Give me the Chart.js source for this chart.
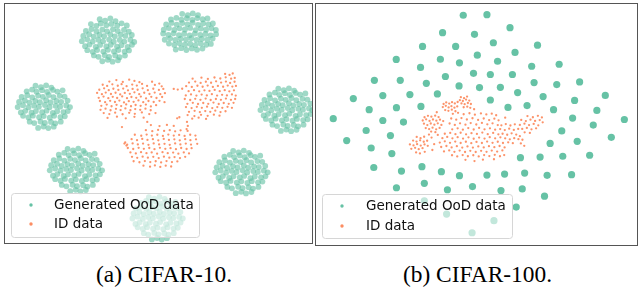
<!DOCTYPE html>
<html>
<head>
<meta charset="utf-8">
<script src="https://cdn.jsdelivr.net/npm/chart.js@4.4.0/dist/chart.umd.min.js"></script>
<style>
  html, body { margin: 0; padding: 0; background: #fff; }
  body { width: 638px; height: 288px; position: relative; overflow: hidden; }
  canvas { position: absolute; }
  .cap { position: absolute; top: 263px; font-family: "Liberation Serif", "Times New Roman", serif; font-size: 23.4px; line-height: 23.4px; color: #000; white-space: nowrap; transform: translateX(-50%); }
</style>
</head>
<body>
<canvas id="c10" width="309" height="241" style="left:4px;top:3px;width:309px;height:241px"></canvas>
<canvas id="c100" width="323" height="243" style="left:315px;top:3px;width:323px;height:243px"></canvas>
<div class="cap" style="left:164px">(a) CIFAR-10.</div>
<div class="cap" style="left:477.5px">(b) CIFAR-100.</div>
<script>
// ---------- Legend / series names ----------
const seriesNames = ["Generated OoD data", "ID data"];
const captions = ["(a) CIFAR-10.", "(b) CIFAR-100."];

// ---------- (a) CIFAR-10 : t-SNE embedding, generated OoD clusters ----------
const c10_ood_topLeft = [
[-29.3,51.9],[-26.6,51.2],[-24.0,52.3],[-21.4,51.0],
[-33.7,49.5],[-31.0,48.6],[-28.8,49.8],[-26.0,48.9],[-23.5,49.6],[-20.6,48.7],[-18.4,49.9],[-15.8,48.8],
[-36.2,46.1],[-33.4,47.0],[-30.9,45.8],[-28.0,46.7],[-25.6,45.9],[-22.7,46.9],[-20.3,46.0],[-17.2,46.6],[-14.8,45.7],
[-37.5,43.6],[-34.6,44.5],[-32.3,43.3],[-29.4,44.2],[-27.1,43.5],[-24.0,44.4],[-21.8,43.4],[-18.9,44.3],[-16.5,43.6],[-13.3,44.1],
[-38.2,41.0],[-35.5,41.9],[-32.8,40.8],[-30.0,41.7],[-27.6,40.9],[-24.6,41.8],[-22.3,40.7],[-19.3,41.6],[-17.0,40.8],[-14.0,41.7],[-12.1,40.6],
[-36.6,38.5],[-34.4,39.3],[-31.3,38.2],[-29.1,39.1],[-26.0,38.4],[-23.8,39.2],[-20.7,38.3],[-18.5,39.0],[-15.4,38.1],[-13.2,39.2],
[-35.5,36.5],[-32.8,35.7],[-30.6,36.6],[-27.5,35.8],[-25.2,36.7],[-22.2,35.9],[-20.0,36.6],[-16.9,35.8],[-14.7,36.4],
[-32.2,33.9],[-29.9,33.2],[-26.8,34.0],[-24.6,33.1],[-21.6,33.9],[-19.4,33.0],[-16.7,33.8],
[-28.0,31.0],[-25.3,31.7],[-22.9,30.8],[-20.2,31.5]
];
const c10_ood_topRight = [
[11.8,54.6],[14.6,53.9],[17.1,54.8],[19.7,54.0],
[6.2,51.8],[8.9,52.6],[11.4,51.7],[14.1,52.4],[16.8,51.6],[19.3,52.5],[22.0,51.9],[24.4,52.3],
[3.8,49.3],[6.5,50.1],[9.1,49.2],[11.8,50.0],[14.4,49.4],[17.0,50.2],[19.7,49.1],[22.3,49.9],[24.9,49.3],[27.1,49.8],
[2.6,46.7],[5.2,47.5],[7.9,46.6],[10.5,47.4],[13.2,46.8],[15.8,47.6],[18.5,46.5],[21.1,47.3],[23.7,46.7],[26.4,47.4],[28.6,46.6],
[2.3,44.8],[4.9,44.1],[7.5,44.9],[10.2,44.0],[12.8,44.7],[15.5,43.9],[18.1,44.8],[20.8,44.1],[23.4,44.6],[26.0,43.9],[28.7,44.5],
[3.1,41.7],[5.8,42.4],[8.4,41.6],[11.1,42.3],[13.7,41.8],[16.4,42.5],[19.0,41.6],[21.6,42.2],[24.3,41.7],[27.0,42.3],
[5.2,39.8],[7.9,39.1],[10.5,39.9],[13.2,39.2],[15.8,39.7],[18.4,39.0],[21.1,39.8],[23.8,39.2],[26.1,39.6],
[8.6,36.8],[11.3,37.5],[13.9,36.6],[16.6,37.4],[19.2,36.7],[21.9,37.3]
];
const c10_ood_left = [
[-61.3,18.8],[-58.6,18.1],[-56.0,19.0],[-53.4,17.9],
[-65.7,16.0],[-63.0,16.9],[-60.8,15.8],[-58.0,16.6],[-55.5,15.7],[-52.6,16.7],[-50.4,15.9],[-47.8,16.5],
[-68.2,13.2],[-65.4,14.1],[-62.9,13.0],[-60.0,13.9],[-57.6,13.3],[-54.7,14.2],[-52.3,13.1],[-49.2,13.8],[-46.8,13.4],
[-69.5,10.7],[-66.6,11.5],[-64.3,10.4],[-61.4,11.3],[-59.1,10.6],[-56.0,11.6],[-53.8,10.5],[-50.9,11.2],[-48.5,10.8],[-45.3,11.4],
[-70.2,8.2],[-67.5,9.1],[-64.8,8.0],[-62.0,8.9],[-59.6,8.3],[-56.6,9.2],[-54.3,8.1],[-51.3,8.8],[-49.0,8.4],[-46.0,9.0],[-44.1,8.2],
[-68.6,5.5],[-66.4,6.3],[-63.3,5.4],[-61.1,6.2],[-58.0,5.6],[-55.8,6.4],[-52.7,5.3],[-50.5,6.1],[-47.4,5.7],[-45.2,6.2],
[-67.5,3.8],[-64.8,3.0],[-62.6,3.9],[-59.5,3.1],[-57.2,3.7],[-54.2,2.9],[-52.0,3.8],[-48.9,3.2],[-46.7,3.6],
[-64.2,0.9],[-61.9,0.2],[-58.8,1.0],[-56.6,0.3],[-53.6,0.8],[-51.4,0.1],[-48.7,0.9],
[-60.0,-2.2],[-57.3,-1.5],[-54.9,-2.3],[-52.2,-1.6]
];
const c10_ood_right = [
[59.7,17.3],[62.4,16.6],[65.0,17.5],[67.6,16.4],
[55.3,14.5],[58.0,15.4],[60.2,14.3],[63.0,15.1],[65.5,14.2],[68.4,15.2],[70.6,14.4],[73.2,15.0],
[52.8,11.7],[55.6,12.6],[58.1,11.5],[61.0,12.4],[63.4,11.8],[66.3,12.7],[68.7,11.6],[71.8,12.3],[74.2,11.9],
[51.5,9.2],[54.4,10.0],[56.7,8.9],[59.6,9.8],[61.9,9.1],[65.0,10.1],[67.2,9.0],[70.1,9.7],[72.5,9.3],[75.7,9.9],
[50.8,6.7],[53.5,7.6],[56.2,6.5],[59.0,7.4],[61.4,6.8],[64.4,7.7],[66.7,6.6],[69.7,7.3],[72.0,6.9],[75.0,7.5],[76.6,6.7],
[52.4,4.0],[54.6,4.8],[57.7,3.9],[59.9,4.7],[63.0,4.1],[65.2,4.9],[68.3,3.8],[70.5,4.6],[73.6,4.2],[75.8,4.7],
[53.5,2.3],[56.2,1.5],[58.4,2.4],[61.5,1.6],[63.8,2.2],[66.8,1.4],[69.0,2.3],[72.1,1.7],[74.3,2.1],
[56.8,-0.6],[59.1,-1.3],[62.2,-0.5],[64.4,-1.2],[67.4,-0.7],[69.6,-1.4],[72.3,-0.6],
[61.0,-3.7],[63.7,-3.0],[66.1,-3.8],[68.8,-3.1]
];
const c10_ood_bottomLeft = [
[-45.3,-12.7],[-42.6,-13.4],[-40.0,-12.5],[-37.4,-13.6],
[-49.7,-15.5],[-47.0,-14.6],[-44.8,-15.7],[-42.0,-14.9],[-39.5,-15.8],[-36.6,-14.8],[-34.4,-15.6],[-31.8,-15.0],
[-52.2,-18.3],[-49.4,-17.4],[-46.9,-18.5],[-44.0,-17.6],[-41.6,-18.2],[-38.7,-17.3],[-36.3,-18.4],[-33.2,-17.7],[-30.8,-18.1],
[-53.5,-20.8],[-50.6,-20.0],[-48.3,-21.1],[-45.4,-20.2],[-43.1,-20.9],[-40.0,-19.9],[-37.8,-21.0],[-34.9,-20.3],[-32.5,-20.7],[-29.3,-20.1],
[-54.2,-23.3],[-51.5,-22.4],[-48.8,-23.5],[-46.0,-22.6],[-43.6,-23.2],[-40.6,-22.3],[-38.3,-23.4],[-35.3,-22.7],[-33.0,-23.1],[-30.0,-22.5],[-28.1,-23.3],
[-52.6,-26.0],[-50.4,-25.2],[-47.3,-26.1],[-45.1,-25.3],[-42.0,-25.9],[-39.8,-25.1],[-36.7,-26.2],[-34.5,-25.4],[-31.4,-25.8],[-29.2,-25.3],
[-51.5,-27.7],[-48.8,-28.5],[-46.6,-27.6],[-43.5,-28.4],[-41.2,-27.8],[-38.2,-28.6],[-36.0,-27.7],[-32.9,-28.3],[-30.7,-27.9],
[-48.2,-30.6],[-45.9,-31.3],[-42.8,-30.5],[-40.6,-31.2],[-37.6,-30.7],[-35.4,-31.4],[-32.7,-30.6],
[-44.0,-33.7],[-41.3,-33.0],[-38.9,-33.8],[-36.2,-33.1]
];
const c10_ood_bottomRight = [
[37.2,-13.7],[39.9,-14.4],[42.5,-13.5],[45.1,-14.6],
[32.8,-16.5],[35.5,-15.6],[37.7,-16.7],[40.5,-15.9],[43.0,-16.8],[45.9,-15.8],[48.1,-16.6],[50.7,-16.0],
[30.3,-19.3],[33.1,-18.4],[35.6,-19.5],[38.5,-18.6],[40.9,-19.2],[43.8,-18.3],[46.2,-19.4],[49.3,-18.7],[51.7,-19.1],
[29.0,-21.8],[31.9,-21.0],[34.2,-22.1],[37.1,-21.2],[39.4,-21.9],[42.5,-20.9],[44.7,-22.0],[47.6,-21.3],[50.0,-21.7],[53.2,-21.1],
[28.3,-24.3],[31.0,-23.4],[33.7,-24.5],[36.5,-23.6],[38.9,-24.2],[41.9,-23.3],[44.2,-24.4],[47.2,-23.7],[49.5,-24.1],[52.5,-23.5],[54.4,-24.3],
[29.9,-27.0],[32.1,-26.2],[35.2,-27.1],[37.4,-26.3],[40.5,-26.9],[42.7,-26.1],[45.8,-27.2],[48.0,-26.4],[51.1,-26.8],[53.3,-26.3],
[31.0,-28.7],[33.7,-29.5],[35.9,-28.6],[39.0,-29.4],[41.3,-28.8],[44.3,-29.6],[46.5,-28.7],[49.6,-29.3],[51.8,-28.9],
[34.3,-31.6],[36.6,-32.3],[39.7,-31.5],[41.9,-32.2],[44.9,-31.7],[47.1,-32.4],[49.8,-31.6],
[38.5,-34.7],[41.2,-34.0],[43.6,-34.8],[46.3,-34.1]
];
const c10_ood_bottom = [
[-4.8,-36.7],[-2.1,-37.4],[0.5,-36.5],[3.1,-37.6],
[-8.8,-39.5],[-6.2,-38.6],[-4.1,-39.7],[-1.4,-38.9],[1.0,-39.8],[3.8,-38.8],[5.9,-39.6],[8.4,-39.0],
[-11.2,-42.3],[-8.5,-41.4],[-6.1,-42.5],[-3.3,-41.6],[-1.0,-42.2],[1.8,-41.3],[4.1,-42.4],[7.1,-41.7],[9.4,-42.1],
[-12.4,-44.8],[-9.6,-44.0],[-7.4,-45.1],[-4.6,-44.2],[-2.4,-44.9],[0.6,-43.9],[2.7,-45.0],[5.5,-44.3],[7.8,-44.7],[10.9,-44.1],
[-13.0,-47.3],[-10.4,-46.4],[-7.8,-47.5],[-5.1,-46.6],[-2.8,-47.2],[0.1,-46.3],[2.3,-47.4],[5.2,-46.7],[7.4,-47.1],[10.3,-46.5],[12.1,-47.3],
[-11.5,-50.0],[-9.4,-49.2],[-6.4,-50.1],[-4.3,-49.3],[-1.3,-49.9],[0.8,-49.1],[3.8,-50.2],[5.9,-49.4],[8.9,-49.8],[11.0,-49.3],
[-10.4,-51.7],[-7.8,-52.5],[-5.7,-51.6],[-2.7,-52.4],[-0.5,-51.8],[2.4,-52.6],[4.5,-51.7],[7.5,-52.3],[9.6,-51.9],
[-7.3,-54.6],[-5.1,-55.3],[-2.1,-54.5],[0.0,-55.2],[2.9,-54.7],[5.0,-55.4],[7.6,-54.6],
[-3.3,-57.7],[-0.7,-57.0],[1.6,-57.8],[4.2,-57.1]
];

// ---------- (a) CIFAR-10 : ID data clusters ----------
const c10_id_left = [
[-24.5,20.9],[-21.0,21.6],[-17.8,20.7],[-14.6,21.8],[-12.0,21.2],[-9.5,20.6],[-3.2,20.8],[0.4,19.9],
[-27.8,19.3],[-25.6,18.7],[-23.0,19.5],[-20.3,18.8],[-18.4,19.6],[-15.9,18.6],[-13.1,19.4],[-10.8,18.9],[-8.2,19.7],[-5.7,18.7],[-1.8,19.2],[1.6,18.5],
[-29.5,16.8],[-27.1,17.5],[-24.8,16.6],[-22.5,17.3],[-20.0,16.7],[-17.6,17.4],[-15.2,16.5],[-12.9,17.2],[-10.4,16.8],[-7.9,17.5],[-5.3,16.6],[-2.6,17.3],[0.2,16.7],[2.4,17.2],
[-30.6,15.2],[-28.2,14.6],[-26.3,15.4],[-23.7,14.7],[-21.4,15.3],[-19.1,14.5],[-16.8,15.2],[-14.3,14.8],[-12.0,15.5],[-9.6,14.6],[-7.1,15.3],[-4.5,14.7],[-1.9,15.4],[0.9,14.6],[3.2,15.1],
[-29.8,12.8],[-27.4,13.4],[-25.0,12.6],[-22.8,13.3],[-20.6,12.7],[-18.1,13.5],[-15.7,12.6],[-13.5,13.2],[-11.1,12.8],[-8.8,13.4],[-6.2,12.5],[-3.6,13.3],[-1.0,12.7],[1.8,13.2],
[-29.2,11.2],[-26.6,10.6],[-24.1,11.3],[-21.7,10.7],[-19.5,11.4],[-17.2,10.5],[-14.8,11.1],[-12.4,10.8],[-10.0,11.5],[-7.6,10.6],[-5.0,11.2],[-2.4,10.7],[0.5,11.3],[3.0,10.6],
[-28.5,8.8],[-25.8,9.4],[-23.4,8.6],[-20.9,9.3],[-18.6,8.7],[-16.1,9.5],[-13.7,8.6],[-11.4,9.2],[-8.9,8.8],[-6.3,9.4],[-3.8,8.5],[-1.2,9.1],
[-28.9,6.8],[-26.4,7.4],[-23.9,6.6],[-21.2,7.3],[-18.9,6.7],[-16.5,7.5],[-14.0,6.6],[-11.6,7.2],[-9.1,6.8],[-6.5,7.4],[-3.9,6.6],
[-27.3,5.2],[-24.5,4.7],[-21.6,5.4],[-17.9,4.6],[-14.6,5.3],[-11.8,4.8],[-8.3,5.5],[-4.6,4.7],[-1.5,5.2],
[-25.4,2.8],[-20.7,3.4],[-16.3,2.6],[-12.0,3.3],[-7.4,2.9],
[-18.2,-1.8],[-5.6,0.8]
];
const c10_id_right = [
[33.2,24.7],[35.4,24.2],[37.0,24.9],
[17.0,22.3],[21.4,22.8],[24.6,22.2],[27.9,22.9],[30.8,22.4],[33.5,23.0],[36.2,22.3],[38.0,22.7],
[15.2,20.4],[18.3,20.9],[21.0,20.2],[23.6,20.8],[26.2,20.3],[28.7,21.0],[31.2,20.4],[33.6,20.9],[35.7,20.2],[37.9,20.8],
[13.8,18.6],[16.6,18.2],[19.4,18.8],[22.0,18.3],[24.5,18.9],[27.1,18.2],[29.6,18.7],[32.2,18.3],[34.5,18.9],[36.8,18.4],[38.6,18.7],
[7.6,17.2],[9.6,16.9],[11.8,17.3],
[15.0,16.1],[17.7,16.6],[20.3,16.0],[22.9,16.5],[25.4,16.2],[28.0,16.7],[30.5,16.1],[33.0,16.6],[35.3,16.0],[37.6,16.5],
[13.6,14.0],[16.2,14.5],[18.9,13.9],[21.5,14.4],[24.1,14.0],[26.6,14.6],[29.2,13.9],[31.7,14.3],[34.1,14.0],[36.6,14.5],[38.5,13.9],
[13.1,12.2],[15.8,11.7],[18.3,12.3],[20.9,11.8],[23.5,12.4],[26.0,11.7],[28.6,12.2],[31.1,11.8],[33.6,12.4],[36.1,11.8],[38.2,12.2],
[14.4,9.8],[17.1,10.3],[19.7,9.7],[22.3,10.2],[24.8,9.8],[27.4,10.4],[30.0,9.7],[32.5,10.2],[35.0,9.8],[37.4,10.3],
[13.7,8.2],[16.5,7.7],[19.1,8.3],[21.6,7.8],[24.2,8.4],[26.8,7.7],[29.3,8.2],[31.8,7.8],[34.4,8.3],[36.6,7.8],
[15.2,5.8],[18.0,6.3],[20.6,5.7],[23.3,6.2],[25.8,5.8],[28.3,6.4],[30.9,5.7],[33.4,6.1],
[14.5,4.2],[17.9,3.7],[21.2,4.3],[24.5,3.8],[27.6,4.4],[30.4,3.9],
[16.8,2.4],[20.0,2.9],[23.7,2.3],
[14.2,0.8],[14.6,-1.2],[14.0,-2.8],[10.4,3.1]
];
const c10_id_bottom = [
[-3.8,-0.8],[0.5,-1.3],[4.2,-0.7],[7.6,-1.2],[9.3,2.6],
[-6.3,-3.3],[-3.1,-3.8],[-0.2,-3.2],[2.8,-3.7],[5.6,-3.3],[8.3,-3.9],[11.0,-3.4],[14.5,-3.7],
[-11.8,-5.6],[-8.6,-6.1],[-5.9,-5.5],[-3.3,-6.0],[-0.6,-5.6],[2.2,-6.2],[4.9,-5.5],[7.6,-6.0],[10.3,-5.7],[13.0,-6.2],[15.8,-5.6],[18.4,-6.0],
[-13.4,-7.8],[-10.7,-8.3],[-8.1,-7.7],[-5.5,-8.2],[-2.8,-7.8],[-0.1,-8.4],[2.6,-7.7],[5.2,-8.2],[7.9,-7.9],[10.6,-8.4],[13.3,-7.8],[15.9,-8.3],[18.7,-7.9],
[-17.0,-10.0],[-15.6,-10.5],[-12.9,-9.9],[-10.3,-10.4],[-7.7,-10.0],[-5.0,-10.6],[-2.4,-9.9],[0.3,-10.4],[3.0,-10.1],[5.6,-10.6],[8.3,-9.9],[10.9,-10.4],[13.6,-10.0],[16.2,-10.5],[19.3,-10.1],
[-16.6,-9.4],[-16.0,-11.0],
[-15.3,-12.2],[-12.6,-12.7],[-9.9,-12.1],[-7.3,-12.6],[-4.6,-12.2],[-2.0,-12.8],[0.7,-12.1],[3.4,-12.6],[6.0,-12.3],[8.7,-12.8],[11.3,-12.2],[14.0,-12.7],[16.5,-12.3],
[-14.0,-14.4],[-11.3,-14.9],[-8.7,-14.3],[-6.0,-14.8],[-3.4,-14.4],[-0.7,-15.0],[2.0,-14.3],[4.6,-14.8],[7.3,-14.5],[9.9,-15.0],[12.6,-14.4],[15.2,-14.9],
[-13.2,-16.6],[-10.6,-17.1],[-7.9,-16.5],[-5.3,-17.0],[-2.6,-16.6],[0.1,-17.2],[2.7,-16.5],[5.4,-17.0],[8.0,-16.7],[10.7,-17.2],[13.3,-16.6],
[-12.4,-18.8],[-9.5,-19.3],[-6.8,-18.7],[-4.1,-19.2],[-1.4,-18.8],[1.3,-19.4],[4.0,-18.7],[6.7,-19.2],[9.4,-18.9],
[-7.5,-21.0],[-4.2,-21.5],[-1.8,-20.9],[0.9,-21.6],[3.6,-21.0],[6.3,-21.4]
];

// ---------- (b) CIFAR-100 : generated OoD clusters (tight blobs) ----------
const c100_ood = [
[-6.6,54.4],[5.2,54.7],[16.7,48.2],[-16.9,45.7],[-1.0,44.9],[8.4,40.7],[30.4,39.5],[-26.9,38.9],[-10.4,38.9],
[19.2,35.9],[0.4,34.5],[-40.0,32.4],[-18.0,32.5],[-8.5,30.7],[10.5,31.5],[27.5,29.0],[41.2,30.0],[-27.9,28.4],
[-1.5,25.5],[6.9,24.9],[17.9,24.9],[-50.9,22.0],[-38.0,22.0],[-25.0,20.5],[-15.5,23.9],[-8.7,19.2],[28.7,20.9],
[40.0,19.9],[51.4,21.2],[-61.4,12.9],[-46.7,14.4],[-33.2,14.9],[-19.5,15.2],[1.5,18.4],[11.9,18.5],[20.5,15.9],
[33.2,13.9],[64.2,14.5],[6.9,12.2],[15.7,8.5],[25.2,9.4],[38.4,7.4],[48.9,12.0],[60.0,7.0],[-53.5,7.4],
[-39.9,8.4],[-27.7,9.0],[-71.4,2.9],[-46.7,2.0],[-36.4,1.2],[47.9,3.2],[58.2,-0.3],[73.7,2.5],[-55.0,-3.0],
[-42.9,-5.5],[-64.7,-8.0],[42.5,-3.2],[67.2,-6.4],[-52.5,-11.7],[-42.2,-14.5],[36.7,-9.4],[50.2,-8.4],
[21.9,-16.5],[31.7,-16.2],[43.0,-15.8],[56.4,-15.3],[-51.2,-21.4],[-37.4,-23.2],[-27.2,-21.0],[-17.5,-23.5],
[-8.5,-25.5],[5.2,-25.2],[14.0,-24.7],[24.0,-24.2],[35.2,-25.3],[47.4,-25.0],[-26.0,-29.3],[-39.9,-31.5],
[-14.5,-32.5],[-2.0,-30.9],[12.2,-32.9],[22.8,-32.1],[33.9,-35.7],[19.8,-41.1],[-26.0,-38.0],[-14.9,-44.6],
[8.7,-47.9],[-2.2,-53.9]
];

// ---------- (b) CIFAR-100 : ID data ----------
const c100_id = [
[-16.4,10.2],[-15.1,11.0],[-13.6,10.4],[-12.2,11.1],[-10.8,10.5],[-9.4,11.2],[-16.8,8.7],[-15.3,9.3],[-13.9,8.5],[-12.5,9.1],[-11.0,8.4],[-9.6,9.0],[-15.6,7.2],[-14.0,6.8],[-12.3,7.4],[-10.5,6.6],
[-7.8,13.6],[-6.2,13.1],[-4.7,13.9],[-8.3,12.1],[-6.8,11.7],[-5.2,12.4],[-3.6,11.9],[-7.5,10.5],[-5.9,10.1],[-4.3,10.7],[-2.8,10.2],[-6.4,8.6],[-4.6,8.9],[-3.1,8.3],
[-25.9,3.6],[-24.2,4.3],[-22.5,3.9],[-20.6,4.4],[-18.9,3.7],[-26.8,2.0],[-25.1,2.6],[-23.4,1.8],[-21.7,2.5],[-20.0,1.9],[-18.2,2.4],[-16.6,1.7],[-26.2,0.4],[-24.5,-0.3],[-22.8,0.5],[-21.0,-0.1],[-19.3,0.6],[-17.5,-0.2],[-25.3,-1.8],[-23.6,-2.3],[-21.9,-1.6],[-20.1,-2.4],[-18.4,-1.7],[-22.6,-3.5],[-20.5,-3.8],
[-29.8,-6.2],[-27.9,-6.8],[-26.1,-6.1],[-31.6,-8.0],[-29.9,-8.5],[-28.1,-7.9],[-26.3,-8.6],[-24.6,-8.1],[-33.2,-9.9],[-31.4,-10.4],[-29.6,-9.8],[-27.8,-10.5],[-25.9,-9.9],[-24.3,-10.6],[-32.5,-12.1],[-30.6,-11.6],[-28.8,-12.3],[-26.9,-11.8],[-30.1,-13.9],[-28.2,-14.4],[-25.8,-13.6],
[-22.4,-6.5],[-21.1,-9.8],[-19.3,-5.2],[-22.0,-12.7],
[-11.8,5.3],[-9.2,5.8],[-6.4,5.1],[-3.5,5.6],[-0.8,4.9],[2.2,5.5],[4.9,5.0],[7.6,5.4],[9.8,4.6],
[-12.6,3.0],[-10.1,2.4],[-7.5,3.2],[-4.8,2.5],[-2.0,3.1],[0.8,2.3],[3.6,3.0],[6.3,2.2],[8.9,2.9],[11.0,2.1],
[-13.4,0.5],[-10.8,-0.2],[-8.2,0.6],[-5.5,-0.1],[-2.9,0.7],[-0.1,0.0],[2.7,0.8],[5.4,0.1],[8.0,0.6],[10.6,-0.3],
[-12.1,-2.4],[-9.4,-1.9],[-6.8,-2.6],[-4.1,-1.8],[-1.4,-2.5],[1.3,-1.7],[4.0,-2.4],[6.7,-1.9],[9.3,-2.6],
[-15.8,-4.6],[-13.1,-4.2],[-10.5,-4.8],[-7.9,-4.1],[-5.2,-4.9],[-2.5,-4.3],[0.2,-4.7],[2.9,-4.0],[5.6,-4.8],[8.3,-4.2],[10.9,-4.9],
[-17.0,-6.8],[-14.6,-6.2],[-12.0,-6.9],[-9.4,-6.3],[-6.7,-7.0],[-4.0,-6.4],[-1.4,-7.1],[1.3,-6.5],[4.0,-7.0],[6.6,-6.3],[9.3,-6.9],[11.9,-6.4],
[-18.3,-9.0],[-15.8,-8.4],[-13.2,-9.1],[-10.6,-8.5],[-7.9,-9.2],[-5.3,-8.6],[-2.6,-9.3],[0.0,-8.7],[2.7,-9.2],[5.3,-8.5],[8.0,-9.1],[10.6,-8.6],[13.2,-9.2],
[-17.6,-11.2],[-15.0,-10.7],[-12.4,-11.4],[-9.8,-10.8],[-7.1,-11.5],[-4.5,-10.9],[-1.8,-11.5],[0.9,-10.9],[3.6,-11.4],[6.2,-10.8],[8.9,-11.3],[11.5,-10.7],[14.0,-11.4],
[-16.2,-13.4],[-13.6,-12.9],[-11.0,-13.6],[-8.4,-13.0],[-5.7,-13.7],[-3.1,-13.1],[-0.4,-13.7],[2.3,-13.1],[5.0,-13.6],[7.6,-13.0],[10.3,-13.5],[12.9,-12.9],
[-12.2,-15.3],[-9.6,-15.9],[-6.9,-15.2],[-4.3,-15.8],[-1.6,-15.3],[1.1,-15.9],[3.8,-15.2],[6.4,-15.7],[9.1,-15.1],[11.7,-15.8],[13.8,-15.2],
[-5.5,-17.6],[-1.0,-18.2],[3.2,-17.5],[8.7,-17.3],
[12.4,-0.4],[14.6,0.2],[16.9,-0.5],[19.1,0.1],
[11.8,-2.3],[14.1,-2.8],[16.3,-2.1],[18.6,-2.7],[20.8,-2.2],
[13.0,-4.6],[15.3,-5.1],[17.5,-4.4],[19.8,-5.0],
[14.3,-6.9],[16.6,-7.4],[18.8,-6.8],[20.9,-7.3],
[15.8,-8.9],[18.1,-9.3],
[25.4,4.2],[28.1,3.6],[30.6,4.3],[32.6,3.5],
[22.3,2.3],[24.6,1.7],[26.9,2.4],[29.2,1.8],[31.5,2.2],[33.0,1.1],
[21.6,-0.2],[23.9,0.4],[26.2,-0.3],[28.5,0.3],[30.8,-0.4],
[22.8,-2.2],[25.1,-1.7],[27.4,-2.4],[29.7,-1.9],
[24.0,-3.9],[26.6,-4.2],
[21.6,-5.8],[22.9,-7.6],[22.1,-9.4],[23.8,-10.6],
[-19.8,6.1],[-1.2,7.6],[14.3,3.4],[-23.7,-5.0]
];

// ---------- helpers ----------
const toXY = arr => arr.map(p => ({ x: p[0], y: p[1] }));
const TEAL = '#66c2a5', ORANGE = '#fc8d62';

const frameAndLegend = {
  id: 'frameAndLegend',
  afterDatasetsDraw(chart, args, o) {
    const ctx = chart.ctx;
    ctx.save();
    ctx.beginPath();
    ctx.roundRect(o.bx + 0.5, o.by + 0.5, o.bw, o.bh, 3);
    ctx.fillStyle = 'rgba(255,255,255,0.6)';
    ctx.fill();
    ctx.strokeStyle = '#d6d6d6';
    ctx.lineWidth = 1;
    ctx.stroke();
    const ds = chart.data.datasets;
    for (let i = 0; i < ds.length; i++) {
      ctx.fillStyle = ds[i].legendColor;
      ctx.beginPath();
      ctx.arc(o.mx, o.rows[i], 1.7, 0, Math.PI * 2);
      ctx.fill();
      ctx.fillStyle = '#111';
      ctx.font = '13.5px "DejaVu Sans"';
      ctx.textBaseline = 'alphabetic';
      ctx.fillText(ds[i].label, o.tx, o.rows[i] + 4.3);
    }
    ctx.restore();
  },
  afterDraw(chart) {
    const ctx = chart.ctx, a = chart.chartArea;
    ctx.save();
    ctx.strokeStyle = '#555';
    ctx.lineWidth = 1;
    ctx.strokeRect(a.left + 0.5, a.top + 0.5, a.right - a.left - 1, a.bottom - a.top - 1);
    ctx.restore();
  }
};

function makeChart(id, ood, id_, oodStyle, idStyle, xr, yr, leg) {
  return new Chart(document.getElementById(id), {
    type: 'scatter',
    data: {
      datasets: [
        Object.assign({ label: seriesNames[0], data: toXY(ood), order: 2, legendColor: TEAL, borderWidth: 0 }, oodStyle),
        Object.assign({ label: seriesNames[1], data: toXY(id_), order: 1, legendColor: ORANGE, borderWidth: 0 }, idStyle)
      ]
    },
    options: {
      responsive: false, animation: false, devicePixelRatio: 1, events: [],
      layout: { padding: 0, autoPadding: false },
      scales: {
        x: { type: 'linear', display: false, min: xr[0], max: xr[1] },
        y: { type: 'linear', display: false, min: yr[0], max: yr[1] }
      },
      plugins: { legend: { display: false }, tooltip: { enabled: false }, frameAndLegend: leg }
    },
    plugins: [frameAndLegend]
  });
}

makeChart('c10',
  [].concat(c10_ood_topLeft, c10_ood_topRight, c10_ood_left, c10_ood_right, c10_ood_bottomLeft, c10_ood_bottomRight, c10_ood_bottom),
  [].concat(c10_id_left, c10_id_right, c10_id_bottom),
  { pointRadius: 2.9, backgroundColor: 'rgba(102,194,165,0.62)' },
  { pointRadius: 1.15, backgroundColor: 'rgba(252,141,98,0.95)' },
  [-77, 77], [-60, 60],
  { bx: 7, by: 190, bw: 188, bh: 44, mx: 27, tx: 50, rows: [202, 221] });

makeChart('c100', c100_ood, c100_id,
  { pointRadius: 3.6, backgroundColor: TEAL },
  { pointRadius: 1.15, backgroundColor: 'rgba(252,141,98,0.95)' },
  [-80.5, 80.5], [-60.5, 60.5],
  { bx: 7, by: 191, bw: 190, bh: 44, mx: 27, tx: 51, rows: [203, 223] });
</script>
</body>
</html>
